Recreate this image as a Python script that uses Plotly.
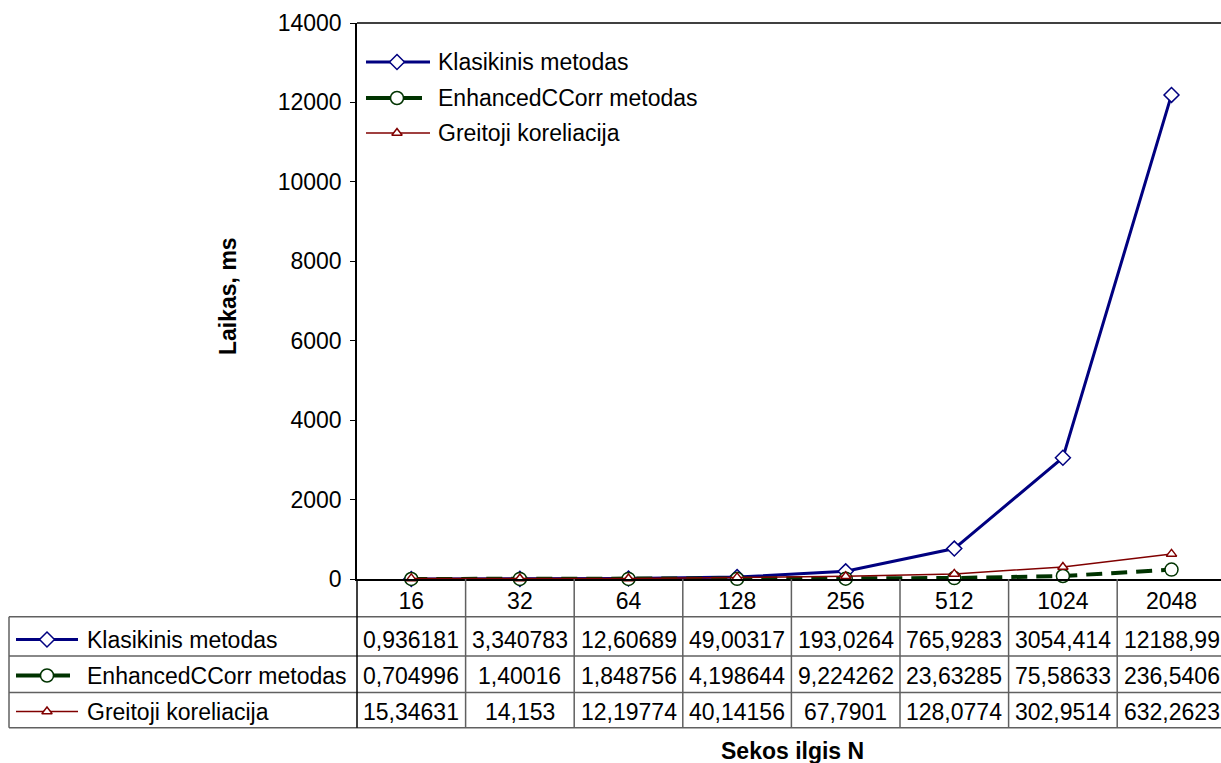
import plotly.graph_objects as go

# ---------------- data ----------------
categories = ["16", "32", "64", "128", "256", "512", "1024", "2048"]
klasikinis = [0.936181, 3.340783, 12.60689, 49.00317, 193.0264, 765.9283, 3054.414, 12188.99]
enhanced = [0.704996, 1.40016, 1.848756, 4.198644, 9.224262, 23.63285, 75.58633, 236.5406]
greitoji = [15.34631, 14.153, 12.19774, 40.14156, 67.7901, 128.0774, 302.9514, 632.2623]
series_names = ["Klasikinis metodas", "EnhancedCCorr metodas", "Greitoji koreliacija"]
y_ticks = [0, 2000, 4000, 6000, 8000, 10000, 12000, 14000]
y_title = "Laikas, ms"
x_title = "Sekos ilgis N"

# ---------------- layout constants (pixels) ----------------
W, H = 1221, 763
FONT = "Liberation Sans, Arial, sans-serif"
FS = 23
PL, PR, PT, PB = 357, 1221, 23, 579          # plot area
COLW = 108.6                                  # table column width
X_RIGHT = -0.5 + (PR - PL) / COLW             # category range end
ROW_LINES = [616.7, 656, 692.5, 727.7]
ROW_TEXT_Y = [639.5, 675.5, 711.5]
TABLE_LEFT = 9

styles = [
    dict(color="#000080", width=3, dash="solid", symbol="diamond", size=11.5),
    dict(color="#003300", width=4, dash="16px,9px", symbol="circle", size=13),
    dict(color="#800000", width=1.5, dash="solid", symbol="triangle-up", size=9),
]
values = [klasikinis, enhanced, greitoji]

fig = go.Figure()

for name, vals, st in zip(series_names, values, styles):
    fig.add_trace(go.Scatter(
        x=categories, y=vals, name=name, mode="lines+markers",
        line=dict(color=st["color"], width=st["width"], dash=st["dash"]),
        marker=dict(symbol=st["symbol"], size=st["size"], color="white",
                    line=dict(color=st["color"], width=1.5)),
        cliponaxis=False, showlegend=False, xaxis="x", yaxis="y",
    ))


def add_key(x0, x1, xm, y, st):
    fig.add_trace(go.Scatter(
        x=[x0, x1], y=[y, y], mode="lines", xaxis="x2", yaxis="y2",
        line=dict(color=st["color"], width=st["width"]),
        showlegend=False, hoverinfo="skip"))
    fig.add_trace(go.Scatter(
        x=[xm], y=[y], mode="markers", xaxis="x2", yaxis="y2",
        marker=dict(symbol=st["symbol"], size=st["size"], color="white",
                    line=dict(color=st["color"], width=1.5)),
        showlegend=False, hoverinfo="skip"))


annotations = []
shapes = []

# legend inside plot
legend_rows = [62, 98, 133]
key_ends = [430, 422, 430]
for name, st, y, xe in zip(series_names, styles, legend_rows, key_ends):
    add_key(366, xe, 397, y, st)
    annotations.append(dict(x=436, y=y, xref="x2", yref="y2", text=name,
                            showarrow=False, xanchor="left", yanchor="middle",
                            font=dict(family=FONT, size=FS, color="black")))

# data table
tkey_ends = [78, 70, 78]
for name, st, vals, yc, xe in zip(series_names, styles, values, ROW_TEXT_Y, tkey_ends):
    add_key(16, xe, 47, yc, st)
    annotations.append(dict(x=85, y=yc, xref="x2", yref="y2", text=name,
                            showarrow=False, xanchor="left", yanchor="middle",
                            font=dict(family=FONT, size=FS, color="black")))
    for i, v in enumerate(vals):
        annotations.append(dict(x=i, y=yc, xref="x", yref="y2",
                                text=str(v).replace(".", ","),
                                showarrow=False, xanchor="center", yanchor="middle",
                                font=dict(family=FONT, size=FS, color="black")))

# table lines
LC = "#606060"
for yl in ROW_LINES:
    shapes.append(dict(type="line", xref="x2", yref="y2", x0=TABLE_LEFT, x1=W,
                       y0=yl, y1=yl, line=dict(color=LC, width=1.5)))
shapes.append(dict(type="line", xref="x2", yref="y2", x0=TABLE_LEFT, x1=TABLE_LEFT,
                   y0=ROW_LINES[0], y1=ROW_LINES[-1], line=dict(color=LC, width=1.5)))
shapes.append(dict(type="line", xref="x2", yref="y2", x0=PL, x1=PL,
                   y0=PB, y1=ROW_LINES[-1], line=dict(color="black", width=1.5)))
for i in range(1, len(categories)):
    shapes.append(dict(type="line", xref="x", yref="y2", x0=i - 0.5, x1=i - 0.5,
                       y0=PB, y1=ROW_LINES[-1], line=dict(color=LC, width=1.5)))
# plot area top border
shapes.append(dict(type="line", xref="x2", yref="y2", x0=PL, x1=W, y0=PT, y1=PT,
                   line=dict(color="#404040", width=2)))

# axis titles
annotations.append(dict(x=228, y=296, xref="x2", yref="y2", text="<b>%s</b>" % y_title,
                        textangle=-90, showarrow=False, xanchor="center", yanchor="middle",
                        font=dict(family=FONT, size=FS, color="black")))
annotations.append(dict(x=792, y=751, xref="x2", yref="y2", text="<b>%s</b>" % x_title,
                        showarrow=False, xanchor="center", yanchor="middle",
                        font=dict(family=FONT, size=FS, color="black")))

fig.update_layout(
    width=W, height=H, autosize=False,
    margin=dict(l=0, r=0, t=0, b=0, pad=0, autoexpand=False),
    paper_bgcolor="white", plot_bgcolor="rgba(0,0,0,0)",
    font=dict(family=FONT, size=FS, color="black"),
    xaxis=dict(type="category", domain=[PL / W, 1], range=[-0.5, X_RIGHT],
               anchor="y", showline=True, linecolor="black", linewidth=2,
               showgrid=False, zeroline=False, ticks="", ticklabelstandoff=0,
               automargin=False,
               tickfont=dict(family=FONT, size=FS, color="black"), fixedrange=True),
    yaxis=dict(domain=[(H - PB) / H, (H - PT) / H], range=[0, 14000],
               anchor="x", showline=True, linecolor="black", linewidth=1.5,
               showgrid=False, zeroline=False, ticks="outside", ticklen=5,
               tickcolor="black", tickwidth=1, tickvals=y_ticks,
               ticktext=[str(t) for t in y_ticks], ticklabelstandoff=4,
               automargin=False,
               tickfont=dict(family=FONT, size=FS, color="black"), fixedrange=True),
    xaxis2=dict(domain=[0, 1], range=[0, W], anchor="y2", visible=False,
                automargin=False, fixedrange=True),
    yaxis2=dict(domain=[0, 1], range=[H, 0], anchor="x2", visible=False,
                automargin=False, fixedrange=True),
    annotations=annotations,
    shapes=shapes,
    showlegend=False,
)

fig.write_html("out.html", config=dict(displayModeBar=False))
